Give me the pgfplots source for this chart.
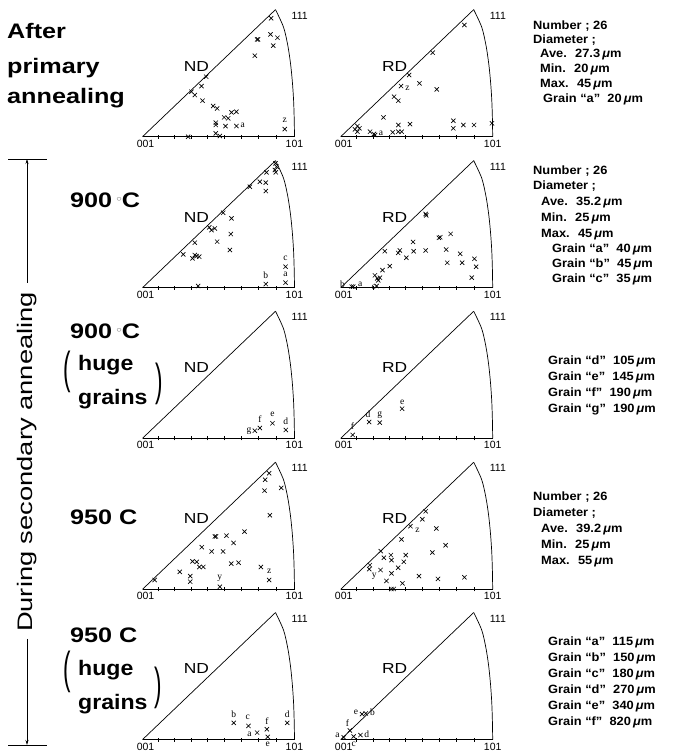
\documentclass[border=0pt]{standalone}
\usepackage{pgfplots}
\pgfplotsset{compat=1.18}
\usepackage{fontspec}
\setmainfont{Liberation Sans}
\newfontfamily\lserif{Liberation Serif}
\usetikzlibrary{arrows.meta}

\pgfplotsset{tri/.style={anchor=origin, x=152pt, y=152pt, xmin=0, xmax=1, ymin=0, ymax=0.84,
  axis x line=bottom, axis y line=none, x axis line style={-, line width=0.7pt},
  xtick={0.105,0.211,0.318,0.426,0.535,0.647,0.761,0.879}, xticklabels={},
  tick align=center, major tick length=4pt, tick style={black, line width=0.55pt}, clip=false},
  xm/.style={black, only marks, mark=x, mark size=3pt, mark options={line width=0.65pt}}}

\newcommand{\triframe}[1]{%
 \addplot[black, line width=0.7pt, no marks] coordinates {(0,0) (0.875,0.836)};
 \addplot[black, line width=0.7pt, no marks, smooth] coordinates {(1,0) (0.998,0.12) (0.994,0.24) (0.986,0.36) (0.974,0.48) (0.956,0.6) (0.928,0.72) (0.875,0.836)};
 \node[anchor=north, font=\fontsize{10.5}{10.5}\selectfont, inner sep=0pt] at (axis cs:0.02,-0.02) {001};
 \node[anchor=north, font=\fontsize{10.5}{10.5}\selectfont, inner sep=0pt] at (axis cs:1,-0.02) {101};
 \node[anchor=west, font=\fontsize{10.5}{10.5}\selectfont, inner sep=0pt, xshift=16pt, yshift=-6pt] at (axis cs:0.875,0.836) {111};
 \node[font=\fontsize{14.5}{14.5}\selectfont, inner sep=0pt] at (axis cs:0.355,0.465) {\scalebox{1.2}[1]{#1}};
}
\newcommand{\lab}[3]{\node[font=\lserif\fontsize{9.5}{9.5}\selectfont, inner sep=0pt] at (axis cs:#1,#2) {#3};}
\newcommand{\rt}[3]{\node[anchor=base west, inner sep=0pt, font=\bfseries\fontsize{12}{12}\selectfont] at (#1pt,#2pt) {\scalebox{1.07}[1]{#3}};}
\newcommand{\um}{\,{\itshape μ}m}
\newcommand{\bt}[3]{\node[anchor=base west, inner sep=0pt, font=\bfseries\fontsize{21}{21}\selectfont] at (#1pt,#2pt) {\scalebox{1.2}[1]{#3}};}
\newcommand{\bs}[3]{\node[anchor=base west, inner sep=0pt, font=\bfseries\fontsize{21}{21}\selectfont] at (#1pt,#2pt) {\scalebox{1.1}[1]{#3}};}
\newcommand{\dg}{{\color{gray}\raisebox{0.3em}{\fontsize{9}{9}\selectfont$\circ$}}}

\begin{document}
\begin{tikzpicture}
\path[use as bounding box] (0pt,0pt) rectangle (679pt,755pt);

% ---------------- Row 1 ----------------
\begin{axis}[tri, at={(142.5pt,618.3pt)}]
\triframe{ND}
\addplot[xm] coordinates {(0.846,0.779)(0.754,0.640)(0.760,0.640)(0.842,0.673)(0.888,0.651)(0.860,0.599)(0.739,0.533)(0.419,0.395)(0.388,0.333)(0.322,0.296)(0.344,0.274)(0.395,0.237)(0.465,0.202)(0.491,0.186)(0.586,0.160)(0.618,0.164)(0.537,0.127)(0.564,0.121)(0.482,0.092)(0.482,0.077)(0.546,0.070)(0.618,0.070)(0.482,0.022)(0.509,0.005)(0.300,0.0)(0.936,0.050)};
\lab{0.66}{0.072}{a}
\lab{0.936}{0.105}{z}
\end{axis}
\begin{axis}[tri, at={(340.7pt,618.3pt)}]
\triframe{RD}
\addplot[xm] coordinates {(0.814,0.735)(0.605,0.553)(0.450,0.406)(0.397,0.333)(0.518,0.351)(0.632,0.311)(0.351,0.263)(0.379,0.237)(0.281,0.127)(0.110,0.070)(0.123,0.055)(0.094,0.048)(0.110,0.033)(0.193,0.033)(0.219,0.018)(0.226,0.011)(0.342,0.029)(0.379,0.077)(0.379,0.033)(0.401,0.033)(0.456,0.083)(0.741,0.105)(0.741,0.055)(0.807,0.077)(0.877,0.077)(0.995,0.088)};
\lab{0.44}{0.318}{z}
\lab{0.265}{0.025}{a}
\end{axis}

% ---------------- Row 2 ----------------
\begin{axis}[tri, at={(142.5pt,467.3pt)}]
\triframe{ND}
\addplot[xm] coordinates {(0.875,0.818)(0.882,0.796)(0.871,0.774)(0.816,0.759)(0.877,0.759)(0.811,0.691)(0.772,0.697)(0.706,0.664)(0.811,0.636)(0.531,0.493)(0.586,0.456)(0.439,0.397)(0.476,0.390)(0.454,0.379)(0.581,0.353)(0.491,0.303)(0.344,0.296)(0.575,0.248)(0.268,0.219)(0.344,0.215)(0.355,0.208)(0.329,0.193)(0.373,0.204)(0.366,0.011)(0.811,0.024)(0.941,0.033)(0.941,0.138)};
\lab{0.811}{0.08}{b}
\lab{0.941}{0.087}{a}
\lab{0.941}{0.192}{c}
\end{axis}
\begin{axis}[tri, at={(340.7pt,467.3pt)}]
\triframe{RD}
\addplot[xm] coordinates {(0.559,0.485)(0.563,0.476)(0.646,0.328)(0.655,0.332)(0.723,0.354)(0.476,0.301)(0.290,0.240)(0.389,0.245)(0.378,0.229)(0.480,0.240)(0.559,0.245)(0.432,0.197)(0.694,0.251)(0.786,0.223)(0.880,0.190)(0.701,0.164)(0.799,0.164)(0.891,0.138)(0.862,0.066)(0.323,0.142)(0.275,0.116)(0.225,0.081)(0.240,0.061)(0.258,0.066)(0.247,0.048)(0.072,0.007)(0.083,0.007)(0.236,0.011)};
\lab{0.012}{0.024}{b}
\lab{0.128}{0.022}{a}
\lab{0.218}{0.004}{c}
\end{axis}

% ---------------- Row 3 ----------------
\begin{axis}[tri, at={(142.5pt,316.7pt)}]
\triframe{ND}
\addplot[xm] coordinates {(0.739,0.050)(0.772,0.068)(0.855,0.099)(0.943,0.055)};
\lab{0.70}{0.05}{g}
\lab{0.772}{0.128}{f}
\lab{0.855}{0.156}{e}
\lab{0.943}{0.113}{d}
\end{axis}
\begin{axis}[tri, at={(340.7pt,316.7pt)}]
\triframe{RD}
\addplot[xm] coordinates {(0.079,0.022)(0.187,0.107)(0.257,0.103)(0.404,0.195)};
\lab{0.078}{0.082}{f}
\lab{0.18}{0.16}{d}
\lab{0.257}{0.155}{g}
\lab{0.404}{0.24}{e}
\end{axis}

% ---------------- Row 4 ----------------
\begin{axis}[tri, at={(142.5pt,165.7pt)}]
\triframe{ND}
\addplot[xm] coordinates {(0.833,0.764)(0.807,0.721)(0.803,0.649)(0.913,0.667)(0.838,0.487)(0.671,0.379)(0.476,0.348)(0.483,0.348)(0.552,0.353)(0.599,0.305)(0.390,0.277)(0.455,0.249)(0.530,0.249)(0.329,0.184)(0.357,0.180)(0.374,0.147)(0.400,0.147)(0.584,0.169)(0.632,0.175)(0.779,0.147)(0.833,0.061)(0.245,0.115)(0.314,0.087)(0.314,0.050)(0.080,0.061)(0.509,0.017)};
\lab{0.833}{0.115}{z}
\lab{0.509}{0.072}{y}
\end{axis}
\begin{axis}[tri, at={(340.7pt,165.7pt)}]
\triframe{RD}
\addplot[xm] coordinates {(0.559,0.513)(0.537,0.461)(0.459,0.415)(0.629,0.400)(0.400,0.328)(0.690,0.290)(0.603,0.242)(0.264,0.251)(0.330,0.225)(0.284,0.208)(0.334,0.192)(0.428,0.225)(0.415,0.181)(0.192,0.159)(0.188,0.133)(0.262,0.127)(0.378,0.142)(0.334,0.105)(0.515,0.087)(0.640,0.068)(0.814,0.079)(0.301,0.055)(0.406,0.039)(0.334,0.002)(0.349,0.002)};
\lab{0.505}{0.39}{z}
\lab{0.22}{0.083}{y}
\end{axis}

% ---------------- Row 5 ----------------
\begin{axis}[tri, at={(142.5pt,15.4pt)}]
\triframe{ND}
\addplot[xm] coordinates {(0.600,0.110)(0.697,0.090)(0.754,0.046)(0.818,0.068)(0.824,0.018)(0.952,0.110)};
\lab{0.600}{0.165}{b}
\lab{0.693}{0.145}{c}
\lab{0.704}{0.032}{a}
\lab{0.818}{0.123}{f}
\lab{0.824}{-0.033}{e}
\lab{0.952}{0.165}{d}
\end{axis}
\begin{axis}[tri, at={(340.7pt,15.4pt)}]
\triframe{RD}
\addplot[xm] coordinates {(0.14,0.168)(0.165,0.172)(0.06,0.06)(0.02,0.015)(0.085,0.02)(0.13,0.03)};
\lab{0.10}{0.178}{e}
\lab{0.21}{0.178}{b}
\lab{0.045}{0.105}{f}
\lab{-0.022}{0.025}{a}
\lab{0.085}{-0.033}{c}
\lab{0.172}{0.035}{d}
\end{axis}

% ---------------- Left labels ----------------
\bt{7}{716}{After}
\bt{7}{681}{primary}
\bt{7}{651}{annealing}
\bt{70}{547.5}{900\,\dg C}
\bt{70}{416.5}{900\,\dg C}
\bs{78}{384}{huge}
\bs{78}{350}{grains}
\node[inner sep=0pt] at (67pt,383pt) {\scalebox{0.8}[1.6]{\fontsize{28}{28}\selectfont (}};
\node[inner sep=0pt] at (159pt,371pt) {\scalebox{0.8}[1.6]{\fontsize{28}{28}\selectfont )}};
\bt{70}{230.5}{950 C}
\bt{70}{112.5}{950 C}
\bs{78}{79}{huge}
\bs{78}{45}{grains}
\node[inner sep=0pt] at (67pt,83pt) {\scalebox{0.8}[1.6]{\fontsize{28}{28}\selectfont (}};
\node[inner sep=0pt] at (158pt,67pt) {\scalebox{0.8}[1.6]{\fontsize{28}{28}\selectfont )}};

% arrow
\draw[line width=0.7pt] (8pt,596pt) -- (47pt,596pt);
\draw[line width=0.7pt] (8pt,10pt) -- (47pt,10pt);
\draw[line width=0.7pt, -{Stealth[length=5pt,width=3pt]}] (27pt,472pt) -- (27pt,596pt);
\draw[line width=0.7pt, -{Stealth[length=5pt,width=3pt]}] (27pt,116pt) -- (27pt,10pt);
\node[rotate=90, inner sep=0pt, font=\fontsize{21}{21}\selectfont] at (27pt,293pt) {\scalebox{1.3}[1]{During secondary annealing}};

% ---------------- Right text ----------------
\rt{533}{725.5}{Number ; 26}
\rt{533}{711.5}{Diameter ;}
\rt{540}{697.5}{Ave.~ 27.3\um}
\rt{540}{682.5}{Min.~ 20\um}
\rt{540}{667.5}{Max.~ 45\um}
\rt{543}{652.5}{Grain “a”~ 20\um}

\rt{533}{580.5}{Number ; 26}
\rt{533}{565.5}{Diameter ;}
\rt{541}{549.5}{Ave.~ 35.2\um}
\rt{541}{533.5}{Min.~ 25\um}
\rt{541}{517.5}{Max.~ 45\um}
\rt{552}{502.5}{Grain “a”~ 40\um}
\rt{552}{487.5}{Grain “b”~ 45\um}
\rt{552}{472.5}{Grain “c”~ 35\um}

\rt{548}{390.5}{Grain “d”~ 105\um}
\rt{548}{374.5}{Grain “e”~ 145\um}
\rt{548}{358.5}{Grain “f”~ 190\um}
\rt{548}{342.5}{Grain “g”~ 190\um}

\rt{533}{254.5}{Number ; 26}
\rt{533}{238.5}{Diameter ;}
\rt{541}{222.5}{Ave.~ 39.2\um}
\rt{541}{206.5}{Min.~ 25\um}
\rt{541}{190.5}{Max.~ 55\um}

\rt{548}{109.5}{Grain “a”~ 115\um}
\rt{548}{93.5}{Grain “b”~ 150\um}
\rt{548}{77.5}{Grain “c”~ 180\um}
\rt{548}{61.5}{Grain “d”~ 270\um}
\rt{548}{45.5}{Grain “e”~ 340\um}
\rt{548}{29.5}{Grain “f”~ 820\um}
\end{tikzpicture}
\end{document}
